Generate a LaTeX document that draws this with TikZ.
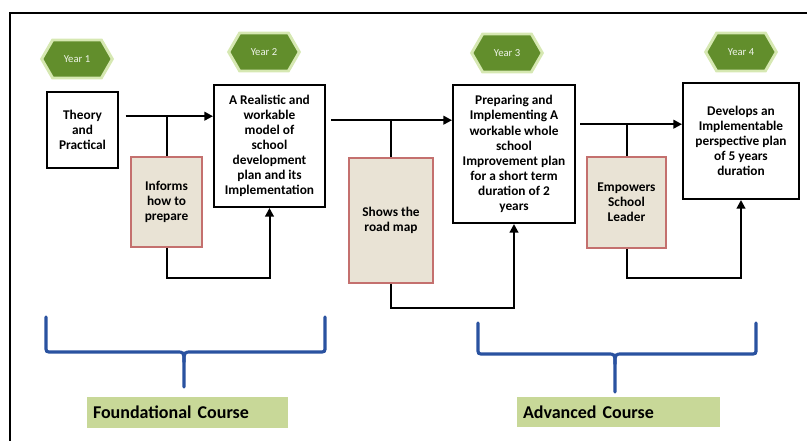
\documentclass[tikz,border=0pt]{standalone}
\usepackage{fontspec}
\setmainfont{Carlito}
\usetikzlibrary{shapes.symbols,arrows.meta}

\definecolor{yeargreen}{RGB}{98,142,44}
\definecolor{yearglow}{RGB}{214,232,178}
\definecolor{linkfill}{RGB}{233,227,213}
\definecolor{linkedge}{RGB}{196,112,110}
\definecolor{coursegreen}{RGB}{200,216,152}
\definecolor{braceblue}{RGB}{42,82,160}

\tikzset{every picture/.style={line width=0.75pt}}
\tikzset{
  yearhex/.style={signal, signal to=east and west, signal pointer angle=120,
    fill=yeargreen, draw=yearglow, line width=2.2pt, minimum width=53pt,
    minimum height=28.5pt, inner sep=1pt, text=white!90!yeargreen,
    font=\fontsize{8}{9}\selectfont},
  planbox/.style={draw=black, line width=1.5pt, fill=white, align=center,
    inner sep=2pt, font=\fontsize{10}{11.3}\selectfont\bfseries},
  linkbox/.style={draw=linkedge, line width=1.2pt, fill=linkfill, align=center,
    inner sep=2pt, font=\fontsize{10}{11.3}\selectfont\bfseries},
  coursebox/.style={fill=coursegreen, align=left, inner sep=4.5pt,
    font=\fontsize{13.5}{15}\selectfont\bfseries},
  flow/.style={line width=1.5pt, -{Triangle[length=6.5pt,width=6.5pt]}},
  bar/.style={line width=1.5pt},
  brace/.style={draw=braceblue, line width=2.4pt, line cap=round},
}

\begin{document}
\begin{tikzpicture}[x=0.75pt,y=0.75pt,yscale=-1,xscale=1]
\useasboundingbox (0,0) rectangle (807,441);

%Frame
\draw [line width=1.5pt] (10,441) -- (10,13) -- (807,13) ;

% Year tags
\node [yearhex] (year1) at (77,59) {Year 1};
\node [yearhex] (year2) at (264,52) {Year 2};
\node [yearhex] (year3) at (507,53) {Year 3};
\node [yearhex] (year4) at (741,52) {Year 4};

% Plan boxes
\node [planbox, minimum width=53.25pt, minimum height=57pt] (theory) at (82.5,130) {Theory\\and\\Practical};
\node [planbox, minimum width=83.25pt, minimum height=91.5pt] (model) at (269.5,146) {A Realistic and\\workable\\model of\\school\\development\\plan and its\\Implementation};
\node [planbox, minimum width=91.5pt, minimum height=103.5pt] (improve) at (514,154) {Preparing and\\Implementing A\\workable whole\\school\\Improvement plan\\for a short term\\duration of 2\\years};
\node [planbox, minimum width=87pt, minimum height=87pt] (perspective) at (741,141) {Develops an\\Implementable\\perspective plan\\of 5 years\\duration};

% Link boxes
\node [linkbox, minimum width=53.25pt, minimum height=67.5pt] (informs) at (166.5,202) {Informs\\how to\\prepare};
\node [linkbox, minimum width=63pt, minimum height=93.75pt] (roadmap) at (391,220.5) {Shows the\\road map};
\node [linkbox, minimum width=59.25pt, minimum height=68.25pt] (empowers) at (626.5,202.5) {Empowers\\School\\Leader};

% Course labels
\node [coursebox, minimum width=150.75pt, minimum height=23.25pt, text width=141.75pt] (foundational) at (187.5,412.5) {Foundational Course};
\node [coursebox, minimum width=152.25pt, minimum height=22.5pt, text width=143.25pt] (advanced) at (618.5,412) {Advanced Course};

% Junctions
\path (informs.north) ++(0,-40) coordinate (j1);
\path (roadmap.north) ++(0,-37) coordinate (j2);
\path (empowers.north) ++(0,-32) coordinate (j3);

% Forward arrows
\draw [flow, shorten <=5pt] (theory.east |- j1) -- (model.west |- j1);
\draw [bar] (j1) -- (informs.north);
\draw [flow, shorten <=4pt] (model.east |- j2) -- (improve.west |- j2);
\draw [bar] (j2) -- (roadmap.north);
\draw [flow, shorten <=3pt] (improve.east |- j3) -- (perspective.west |- j3);
\draw [bar] (j3) -- (empowers.north);

% Feedback arrows
\draw [flow] (informs.south) -- ++(0,30) -| (model.south);
\draw [flow] (roadmap.south) -- ++(0,24) -| (improve.south);
\draw [flow] (empowers.south) -- ++(0,29) -| (perspective.south);

% Braces
\draw [brace] (46,317) -- (46,346) .. controls (46,352) .. (52,352) -- (176,352) .. controls (184,352) .. (184,362) -- (184,387) ;
\draw [brace] (325,317) -- (325,346) .. controls (325,352) .. (319,352) -- (192,352) .. controls (184,352) .. (184,362) ;
\draw [brace] (478,323) -- (478,348) .. controls (478,354) .. (484,354) -- (607,354) .. controls (615,354) .. (615,364) -- (615,392) ;
\draw [brace] (756,323) -- (756,348) .. controls (756,354) .. (750,354) -- (623,354) .. controls (615,354) .. (615,364) ;

\end{tikzpicture}
\end{document}
